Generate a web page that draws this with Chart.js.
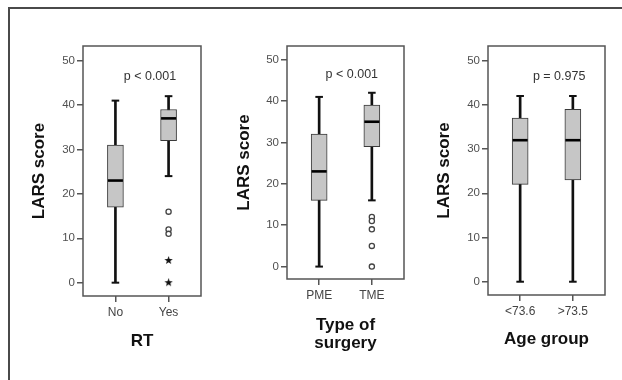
<!DOCTYPE html>
<html>
<head>
<meta charset="utf-8">
<script src="https://cdn.jsdelivr.net/npm/chart.js@4.4.1/dist/chart.umd.min.js"></script>
<style>
  html, body { margin: 0; padding: 0; background: #fff; }
  #wrap { position: relative; width: 622px; height: 380px; overflow: hidden; }
  #frame { position: absolute; left: 8px; top: 7px; width: 700px; height: 500px;
           border-top: 2px solid #4a4a4a; border-left: 2px solid #4a4a4a; }
  canvas { position: absolute; top: 0; }
</style>
</head>
<body>
<div id="wrap">
  <div id="frame"></div>
  <canvas id="c1" width="206" height="380" style="left:0px"></canvas>
  <canvas id="c2" width="204" height="380" style="left:206px"></canvas>
  <canvas id="c3" width="212" height="380" style="left:410px"></canvas>
</div>
<script>
// shared value axis
var yTicks = [0, 10, 20, 30, 40, 50];
var yTitle = 'LARS score';

// RT
var rtLabels = ['No', 'Yes'];
var rtMin = [0, 24];
var rtQ1 = [17, 32];
var rtMed = [23, 37];
var rtQ3 = [31, 39];
var rtMax = [41, 42];
var rtCircles = [[], [16, 12, 11]];
var rtStars = [[], [5, 0]];
var rtP = 'p < 0.001';

// Type of surgery
var surgLabels = ['PME', 'TME'];
var surgMin = [0, 16];
var surgQ1 = [16, 29];
var surgMed = [23, 35];
var surgQ3 = [32, 39];
var surgMax = [41, 42];
var surgCircles = [[], [12, 11, 9, 5, 0]];
var surgStars = [[], []];
var surgP = 'p < 0.001';

// Age group
var ageLabels = ['<73.6', '>73.5'];
var ageMin = [0, 0];
var ageQ1 = [22, 23];
var ageMed = [32, 32];
var ageQ3 = [37, 39];
var ageMax = [42, 42];
var ageCircles = [[], []];
var ageStars = [[], []];
var ageP = 'p = 0.975';

var FONT = "'Liberation Sans', Arial, sans-serif";
var LINE = '#555';

function makeStar() {
  var c = document.createElement('canvas');
  c.width = 9; c.height = 9;
  var g = c.getContext('2d');
  g.fillStyle = '#111';
  g.beginPath();
  for (var i = 0; i < 10; i++) {
    var r = i % 2 ? 1.8 : 4.4;
    var a = -Math.PI / 2 + i * Math.PI / 5;
    g.lineTo(4.5 + r * Math.cos(a), 4.5 + r * Math.sin(a));
  }
  g.closePath();
  g.fill();
  return c;
}
var starImg = makeStar();

function pts(vals) {
  return vals.map(function (v, i) { return { x: i + 1, y: v }; });
}
function ranges(lo, hi) {
  return lo.map(function (v, i) { return { x: i + 1, y: [v, hi[i]] }; });
}
function outl(groups) {
  var out = [];
  groups.forEach(function (vals, i) {
    vals.forEach(function (v) { out.push({ x: i + 1, y: v }); });
  });
  return out;
}
// keep the plot area where the layout puts it
function noPad(s) {
  s.paddingLeft = 0; s.paddingRight = 0; s.paddingTop = 0; s.paddingBottom = 0;
}

// frame + p-value text
var panelPlugin = {
  id: 'panelPlugin',
  afterDraw: function (chart) {
    var ctx = chart.ctx, a = chart.chartArea, o = chart.options.plugins.panelPlugin;
    ctx.save();
    ctx.strokeStyle = LINE;
    ctx.lineWidth = 1.5;
    ctx.strokeRect(a.left, a.top, a.right - a.left, a.bottom - a.top);
    ctx.fillStyle = '#333';
    ctx.font = '12.5px ' + FONT;
    ctx.textAlign = 'center';
    ctx.textBaseline = 'middle';
    ctx.fillText(o.text, chart.scales.x.getPixelForValue(o.x), chart.scales.y.getPixelForValue(o.y));
    ctx.restore();
  }
};

function boxChart(id, d, lay) {
  return new Chart(document.getElementById(id), {
    type: 'bar',
    data: {
      datasets: [
        { type: 'scatter', order: 0, data: outl(d.circles), pointStyle: 'circle', pointRadius: 2.6,
          backgroundColor: '#fff', borderColor: '#444', borderWidth: 1.3 },
        { type: 'scatter', order: 0, data: outl(d.stars), pointStyle: starImg, pointRadius: 4 },
        { type: 'scatter', order: 1, data: pts(d.med), pointStyle: 'line', pointRadius: 7.5,
          borderColor: '#000', borderWidth: 2.6 },
        { order: 2, data: ranges(d.q1, d.q3), grouped: false, barThickness: 16,
          backgroundColor: '#c6c6c6', borderColor: '#3a3a3a', borderWidth: 1, borderSkipped: false },
        { type: 'scatter', order: 3, data: pts(d.max).concat(pts(d.min)), pointStyle: 'line', pointRadius: 3.8,
          borderColor: '#111', borderWidth: 2 },
        { order: 4, data: ranges(d.min, d.max), grouped: false, barThickness: 2,
          backgroundColor: '#111', borderWidth: 0 }
      ]
    },
    options: {
      responsive: false,
      animation: false,
      devicePixelRatio: 1,
      layout: { autoPadding: false, padding: { top: 46, right: lay.padRight, left: 0, bottom: 0 } },
      plugins: {
        legend: { display: false },
        tooltip: { enabled: false },
        panelPlugin: { text: d.p, x: lay.pX, y: 46.4 }
      },
      scales: {
        x: {
          type: 'linear', min: 0.39, max: 2.61, offset: false,
          afterBuildTicks: function (s) { s.ticks = d.labels.map(function (l, i) { return { value: i + 1 }; }); },
          afterFit: function (s) { s.height = lay.xH; noPad(s); },
          ticks: { callback: function (v, i) { return d.labels[i]; }, autoSkip: false, maxRotation: 0,
                   color: '#444', padding: 3, font: { family: FONT, size: 12 } },
          grid: { display: true, offset: false, drawOnChartArea: false, drawTicks: true, tickLength: 6,
                  color: LINE, lineWidth: 1.5 },
          border: { display: false },
          title: { display: true, text: d.xTitle, color: '#111',
                   font: { family: FONT, size: 17, weight: 'bold', lineHeight: 1.1 },
                   padding: { top: 0, bottom: lay.xTitlePad } }
        },
        y: {
          min: -3, max: 53.3,
          afterBuildTicks: function (s) { s.ticks = yTicks.map(function (v) { return { value: v }; }); },
          afterFit: function (s) { s.width = lay.yW; noPad(s); },
          ticks: { color: '#505050', padding: 2, font: { family: FONT, size: 11.5 } },
          grid: { display: true, drawOnChartArea: false, drawTicks: true, tickLength: 6, color: LINE, lineWidth: 1.5 },
          border: { display: false },
          title: { display: true, text: yTitle, color: '#111',
                   font: { family: FONT, size: 17, weight: 'bold', lineHeight: 1.2 },
                   padding: { top: lay.yTitlePad, bottom: 0 } }
        }
      }
    },
    plugins: [panelPlugin]
  });
}

boxChart('c1',
  { labels: rtLabels, min: rtMin, q1: rtQ1, med: rtMed, q3: rtQ3, max: rtMax,
    circles: rtCircles, stars: rtStars, p: rtP, xTitle: 'RT' },
  { yW: 83, padRight: 5, xH: 84, yTitlePad: 29, xTitlePad: 29, pX: 1.65 });

boxChart('c2',
  { labels: surgLabels, min: surgMin, q1: surgQ1, med: surgMed, q3: surgQ3, max: surgMax,
    circles: surgCircles, stars: surgStars, p: surgP, xTitle: ['Type of', 'surgery'] },
  { yW: 81, padRight: 6, xH: 101, yTitlePad: 28, xTitlePad: 27, pX: 1.62 });

boxChart('c3',
  { labels: ageLabels, min: ageMin, q1: ageQ1, med: ageMed, q3: ageQ3, max: ageMax,
    circles: ageCircles, stars: ageStars, p: ageP, xTitle: 'Age group' },
  { yW: 78, padRight: 17, xH: 85, yTitlePad: 24, xTitlePad: 31, pX: 1.74 });
</script>
</body>
</html>
